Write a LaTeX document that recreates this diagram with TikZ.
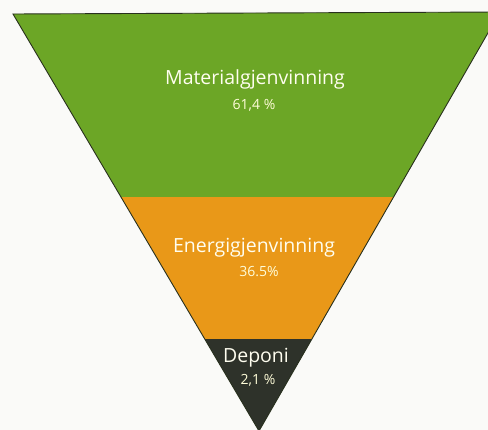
\documentclass[tikz,border=0pt]{standalone}
\usepackage{fontspec}
\setmainfont{Open Sans}
\definecolor{bandgreen}{RGB}{108,166,38}
\definecolor{bandorange}{RGB}{233,152,24}
\definecolor{banddark}{RGB}{46,50,42}
\definecolor{edgedark}{RGB}{40,48,30}
\definecolor{paper}{RGB}{250,250,248}
\begin{document}
\begin{tikzpicture}[x=1pt,y=-1pt,
  lbl/.style={text=white!94!yellow, inner sep=0pt, anchor=base, font=\fontsize{19.5}{22}\selectfont},
  pct/.style={text=white!85!yellow, inner sep=0pt, anchor=base, font=\fontsize{14}{16}\selectfont},
  edge/.style={draw=edgedark, line width=0.9pt, line join=miter}]
\useasboundingbox (0,0) rectangle (488,430);
\fill[paper] (0,0) rectangle (488,430);
\clip (0,0) rectangle (488,430);
\coordinate (tl) at (13,14);
\coordinate (tr) at (500,12);
\coordinate (ap) at (259,431);
\begin{scope}
  \clip (tl) -- (tr) -- (ap) -- cycle;
  \fill[bandgreen] (0,0) rectangle (520,197);
  \fill[bandorange] (0,197) rectangle (520,339);
  \fill[banddark] (0,339) rectangle (520,440);
\end{scope}
\draw[edge] (tl) -- (tr) -- (ap) -- cycle;
\node[lbl] (mat) at (255,85) {Materialgjenvinning};
\node[pct] (matp) at (254,110) {61,4 \%};
\node[lbl] (ene) at (254,253) {Energigjenvinning};
\node[pct] (enep) at (259,277) {36.5\%};
\node[lbl] (dep) at (256,363) {Deponi};
\node[pct] (depp) at (258,385) {2,1 \%};
\end{tikzpicture}
\end{document}
